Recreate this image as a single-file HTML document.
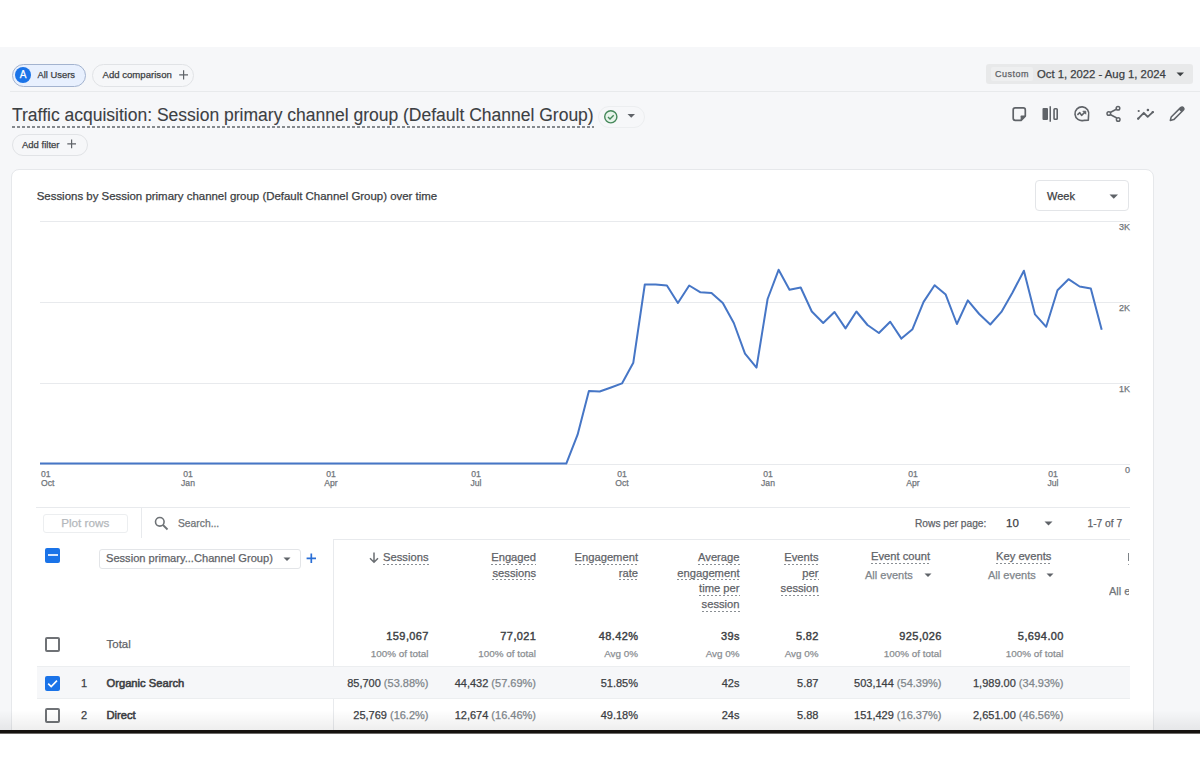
<!DOCTYPE html>
<html><head><meta charset="utf-8">
<style>
*{box-sizing:border-box;margin:0;padding:0}
html,body{width:1200px;height:781px;overflow:hidden;background:#fff;font-family:"Liberation Sans",sans-serif;color:#3c4043}
.abs,.hd,.num,.tot,.sub,.yl,.xl{-webkit-text-stroke:0.25px currentColor}
.abs{position:absolute;white-space:nowrap}
#gray{position:absolute;left:0;top:47px;width:1200px;height:683px;background:#f6f7f9}
#blackline{position:absolute;left:0;top:730px;width:1200px;height:4px;background:linear-gradient(to bottom,#15110f 0,#15110f 75%,#6d6a68 75%,#6d6a68 100%)}
.chip{position:absolute;height:23px;border-radius:12px;border:1px solid #e1e3e6;font-size:9.5px;line-height:21px;color:#3c4043}
#card{position:absolute;left:11px;top:169px;width:1143px;height:600px;background:#fff;border:1px solid #e6e8eb;border-radius:8px}
.g{position:absolute;height:1px;background:#e8eaed}
.yl{position:absolute;font-size:9px;color:#70757a;text-align:right;width:30px}
.xl{position:absolute;font-size:8.6px;line-height:9.5px;color:#70757a;text-align:center;width:30px}
.hd{position:absolute;font-size:11.2px;line-height:15.6px;color:#5f6368;text-align:right}
.hd span{padding-bottom:2px;background:linear-gradient(to right,#8a8f94 55%,transparent 55%) repeat-x left bottom/4px 1.2px}
.num{position:absolute;font-size:11px;color:#3c4043;text-align:right}
.num i{font-style:normal;color:#80868b}
.tot{position:absolute;font-size:11px;color:#3c4043;text-align:right;letter-spacing:0.4px;margin-right:-0.4px;-webkit-text-stroke:0.4px #3c4043 !important}
.sub{position:absolute;font-size:9.9px;color:#8a8e92;text-align:right}
.cb{position:absolute;width:15px;height:15px;border:2px solid #6f7276;border-radius:2px}
</style></head><body>
<div id="gray"></div>

<!-- chips -->
<div class="chip" style="left:11.5px;top:64px;width:74px;height:23px;background:#e8f0fe;border-color:#a3b3cf"></div>
<div class="abs" style="left:15px;top:67px;width:16px;height:16px;border-radius:50%;background:#1a73e8;color:#fff;font-size:10px;line-height:16px;text-align:center">A</div>
<div class="abs" style="left:37.5px;top:69px;font-size:9.4px;line-height:12px;color:#3c4043">All Users</div>
<div class="chip" style="left:92px;top:64px;width:102px;border-color:#e1e3e6"></div>
<div class="abs" style="left:102.5px;top:69px;font-size:9.6px;line-height:12px;color:#3c4043">Add comparison</div>
<svg class="abs" style="left:178.5px;top:69.5px" width="10" height="10"><path d="M4.6,0.2 V9.4 M0.2,4.8 H9" stroke="#5f6368" stroke-width="1.2"/></svg>

<div class="abs" style="left:10px;top:91px;width:1190px;height:1px;background:#e8eaec"></div>

<!-- date picker -->
<div class="abs" style="left:986px;top:64px;width:207px;height:20px;background:#e8e9ea;border-radius:3px"></div>
<div class="abs" style="left:991px;top:67px;width:42px;height:14px;background:#eeeff0;border-radius:2px;font-size:9px;line-height:14px;color:#5f6368;text-align:center;letter-spacing:0.5px">Custom</div>
<div class="abs" style="left:1037px;top:67px;font-size:11.3px;line-height:15px;color:#3c4043">Oct 1, 2022 - Aug 1, 2024</div>

<!-- title -->
<div class="abs" style="left:12px;top:104px;font-size:17.5px;line-height:22px;color:#3c4043;-webkit-text-stroke:0.1px #3c4043">Traffic acquisition: Session primary channel group (Default Channel Group)</div>
<div class="abs" style="left:12px;top:125.5px;width:582px;height:2px;background:linear-gradient(to right,#85898d 60%,transparent 60%) repeat-x left top/5px 2px"></div>

<!-- add filter -->
<div class="chip" style="left:12px;top:134px;width:76px;height:22px"></div>
<div class="abs" style="left:22px;top:139px;font-size:9.5px;line-height:12px;color:#3c4043">Add filter</div>

<!-- card -->
<div id="card"></div>
<div class="abs" style="left:36.7px;top:189px;font-size:11.45px;line-height:14px;color:#3c4043">Sessions by Session primary channel group (Default Channel Group) over time</div>

<div class="abs" style="left:1035px;top:180px;width:94px;height:31px;border:1px solid #e3e5e8;border-radius:4px"></div>
<div class="abs" style="left:1047px;top:189px;font-size:11px;line-height:14px;color:#3c4043">Week</div>

<!-- grid -->
<div class="g" style="left:40px;top:221px;width:1090px"></div>
<div class="g" style="left:40px;top:302px;width:1090px"></div>
<div class="g" style="left:40px;top:383px;width:1090px"></div>
<div class="g" style="left:40px;top:464px;width:1090px"></div>
<div class="yl" style="left:1100px;top:222px">3K</div>
<div class="yl" style="left:1100px;top:303px">2K</div>
<div class="yl" style="left:1100px;top:384px">1K</div>
<div class="yl" style="left:1100px;top:465px">0</div>


<!-- chart line -->
<svg class="abs" style="left:0;top:0" width="1200" height="781"><path d="M40.0,463.6 L566.3,463.6 L577.6,434.7 L588.9,390.9 L599.7,391.5 L611.0,387.5 L622.0,383.4 L633.3,362.7 L644.8,284.5 L655.6,284.5 L666.9,285.5 L677.9,303.0 L689.2,285.5 L700.5,292.3 L711.5,293.0 L722.8,303.0 L733.8,323.0 L745.0,353.7 L756.5,367.6 L767.6,299.0 L778.6,269.8 L789.5,289.8 L800.7,287.5 L811.8,311.5 L823.2,323.0 L834.5,312.0 L845.5,328.4 L856.4,311.5 L867.5,325.0 L878.9,333.0 L890.2,321.7 L901.4,338.6 L912.5,329.2 L923.6,301.9 L934.6,285.2 L945.7,294.6 L956.9,324.0 L967.8,300.3 L979.2,314.0 L990.3,324.5 L1001.4,311.9 L1012.4,292.7 L1023.9,270.7 L1035.0,314.4 L1046.2,326.8 L1057.5,290.3 L1068.5,279.2 L1079.6,286.5 L1090.8,288.4 L1101.7,329.7" fill="none" stroke="#4676c6" stroke-width="2" stroke-linejoin="round"/></svg>
<div class="xl" style="left:41px;top:469.5px;text-align:left">01<br>Oct</div>
<div class="xl" style="left:173px;top:469.5px">01<br>Jan</div>
<div class="xl" style="left:316px;top:469.5px">01<br>Apr</div>
<div class="xl" style="left:461px;top:469.5px">01<br>Jul</div>
<div class="xl" style="left:607px;top:469.5px">01<br>Oct</div>
<div class="xl" style="left:753px;top:469.5px">01<br>Jan</div>
<div class="xl" style="left:898px;top:469.5px">01<br>Apr</div>
<div class="xl" style="left:1038px;top:469.5px">01<br>Jul</div>

<!-- table toolbar -->
<div class="g" style="left:36px;top:507px;width:1094px"></div>
<div class="g" style="left:334px;top:539px;width:796px"></div>
<div class="abs" style="left:333px;top:539px;width:1px;height:192px;background:#e8eaed"></div>
<div class="abs" style="left:141px;top:507px;width:1px;height:31px;background:#e8eaed"></div>
<div class="abs" style="left:42.5px;top:514px;width:85.5px;height:19px;border:1px solid #eceef0;border-radius:3px;font-size:11.7px;line-height:15.5px;text-align:center;color:#b4b8bc">Plot rows</div>
<div class="abs" style="left:178px;top:517px;font-size:10.3px;line-height:13px;color:#6f7377">Search...</div>
<div class="abs" style="left:915px;top:517px;font-size:10.2px;line-height:13px;color:#5f6368">Rows per page:</div>
<div class="abs" style="left:1006px;top:516px;font-size:11.5px;line-height:14px;color:#3c4043">10</div>
<div class="abs" style="left:1087.5px;top:517px;font-size:10.2px;line-height:13px;color:#5f6368">1-7 of 7</div>

<!-- dim selector -->
<div class="abs" style="left:45px;top:548px;width:15px;height:15px;background:#1a73e8;border-radius:2px"></div>
<div class="abs" style="left:47.5px;top:554px;width:10.5px;height:2px;background:#d6e6ff"></div>
<div class="abs" style="left:99px;top:549px;width:202px;height:20px;border:1px solid #e3e5e8;border-radius:3px"></div>
<div class="abs" style="left:106px;top:552px;font-size:11.1px;line-height:13px;color:#5f6368">Session primary...Channel Group)</div>

<!-- headers -->
<div class="hd" style="right:771.5px;top:550px"><span>Sessions</span></div>
<div class="hd" style="right:664px;top:550px"><span>Engaged</span><br><span>sessions</span></div>
<div class="hd" style="right:562px;top:550px"><span>Engagement</span><br><span>rate</span></div>
<div class="hd" style="right:460.5px;top:550px"><span>Average</span><br><span>engagement</span><br><span>time per</span><br><span>session</span></div>
<div class="hd" style="right:381.5px;top:550px"><span>Events</span><br><span>per</span><br><span>session</span></div>
<div class="hd" style="left:871px;top:549px;text-align:left"><span>Event count</span></div>
<div class="abs" style="left:865px;top:568px;font-size:11px;line-height:14px;color:#80868b">All events</div>
<div class="hd" style="left:996px;top:549px;text-align:left"><span>Key events</span></div>
<div class="abs" style="left:988px;top:568px;font-size:11px;line-height:14px;color:#80868b">All events</div>
<div class="abs" style="left:1109px;top:583.5px;font-size:11px;line-height:14px;color:#70757a;width:20px;overflow:hidden">All events</div>
<div class="abs" style="left:1127.8px;top:553px;width:1.6px;height:8px;background:#7d8287"></div><div class="abs" style="left:1127.8px;top:564px;width:1.6px;height:1.2px;background:#9aa0a6"></div>

<!-- total row -->
<div class="cb" style="left:45px;top:637px"></div>
<div class="abs" style="left:106.5px;top:637px;font-size:11.5px;line-height:14px;color:#5f6368">Total</div>
<div class="tot" style="right:771.5px;top:630px">159,067</div>
<div class="sub" style="right:771.5px;top:648px">100% of total</div>
<div class="tot" style="right:664px;top:630px">77,021</div>
<div class="sub" style="right:664px;top:648px">100% of total</div>
<div class="tot" style="right:562px;top:630px">48.42%</div>
<div class="sub" style="right:562px;top:648px">Avg 0%</div>
<div class="tot" style="right:460.5px;top:630px">39s</div>
<div class="sub" style="right:460.5px;top:648px">Avg 0%</div>
<div class="tot" style="right:381.5px;top:630px">5.82</div>
<div class="sub" style="right:381.5px;top:648px">Avg 0%</div>
<div class="tot" style="right:258.5px;top:630px">925,026</div>
<div class="sub" style="right:258.5px;top:648px">100% of total</div>
<div class="tot" style="right:136.5px;top:630px">5,694.00</div>
<div class="sub" style="right:136.5px;top:648px">100% of total</div>

<!-- row 1 -->
<div class="abs" style="left:37px;top:666px;width:1093px;height:33px;background:#f6f7f9;border-top:1px solid #eceef0;border-bottom:1px solid #eceef0"></div>
<div class="abs" style="left:45px;top:676px;width:15px;height:15px;background:#1a73e8;border-radius:2px"></div>
<svg class="abs" style="left:45px;top:676px" width="15" height="15"><path d="M3.2,7.6 L6.2,10.6 L12,4.6" fill="none" stroke="#fff" stroke-width="1.6"/></svg>
<div class="abs" style="left:81px;top:676px;font-size:11px;line-height:14px;color:#3c4043">1</div>
<div class="abs" style="left:106.5px;top:676px;font-size:11.2px;line-height:14px;color:#3c4043;-webkit-text-stroke:0.55px #3c4043">Organic Search</div>
<div class="num" style="right:771.5px;top:677px">85,700 <i>(53.88%)</i></div>
<div class="num" style="right:664px;top:677px">44,432 <i>(57.69%)</i></div>
<div class="num" style="right:562px;top:677px">51.85%</div>
<div class="num" style="right:460.5px;top:677px">42s</div>
<div class="num" style="right:381.5px;top:677px">5.87</div>
<div class="num" style="right:258.5px;top:677px">503,144 <i>(54.39%)</i></div>
<div class="num" style="right:136.5px;top:677px">1,989.00 <i>(34.93%)</i></div>

<!-- row 2 -->
<div class="cb" style="left:45px;top:708px"></div>
<div class="abs" style="left:81px;top:708px;font-size:11px;line-height:14px;color:#3c4043">2</div>
<div class="abs" style="left:106.5px;top:708px;font-size:11.2px;line-height:14px;color:#3c4043;-webkit-text-stroke:0.55px #3c4043">Direct</div>
<div class="num" style="right:771.5px;top:709px">25,769 <i>(16.2%)</i></div>
<div class="num" style="right:664px;top:709px">12,674 <i>(16.46%)</i></div>
<div class="num" style="right:562px;top:709px">49.18%</div>
<div class="num" style="right:460.5px;top:709px">24s</div>
<div class="num" style="right:381.5px;top:709px">5.88</div>
<div class="num" style="right:258.5px;top:709px">151,429 <i>(16.37%)</i></div>
<div class="num" style="right:136.5px;top:709px">2,651.00 <i>(46.56%)</i></div>


<!-- check pill -->
<div class="abs" style="left:597.5px;top:105.5px;width:47px;height:22px;border:1px solid #eceef0;border-radius:11px"></div>
<svg class="abs" style="left:603px;top:108.5px" width="16" height="16"><circle cx="7.8" cy="7.8" r="6.1" fill="#e6f4ea" stroke="#45885a" stroke-width="1.4"/><path d="M5,8 L7,9.9 L10.7,6.2" fill="none" stroke="#45885a" stroke-width="1.4"/></svg>
<svg class="abs" style="left:627px;top:113px" width="9" height="6"><path d="M0.5,1 L8,1 L4.25,4.8 Z" fill="#5f6368"/></svg>
<!-- date arrow -->
<svg class="abs" style="left:1176px;top:72px" width="9" height="6"><path d="M0.5,0.5 L8,0.5 L4.25,4.3 Z" fill="#3c4043"/></svg>
<!-- week arrow -->
<svg class="abs" style="left:1108.5px;top:194px" width="10" height="6"><path d="M0.5,0.5 L9,0.5 L4.75,4.8 Z" fill="#5f6368"/></svg>
<!-- plus add comparison already; add filter plus -->
<svg class="abs" style="left:67px;top:139px" width="10" height="10"><path d="M4.6,0.4 V9.2 M0.3,4.8 H9" stroke="#5f6368" stroke-width="1.2"/></svg>
<!-- search icon -->
<svg class="abs" style="left:154px;top:516px" width="15" height="15"><circle cx="5.8" cy="5.8" r="4.3" fill="none" stroke="#6f7377" stroke-width="1.6"/><path d="M9,9 L13.5,13.5" stroke="#6f7377" stroke-width="1.8"/></svg>
<!-- rows per page arrow -->
<svg class="abs" style="left:1043.5px;top:521px" width="9" height="6"><path d="M0.5,0.5 L8.5,0.5 L4.5,4.5 Z" fill="#5f6368"/></svg>
<!-- dim dropdown arrow and plus -->
<svg class="abs" style="left:283px;top:557px" width="8" height="5"><path d="M0.5,0.5 L7.5,0.5 L4,4 Z" fill="#5f6368"/></svg>
<svg class="abs" style="left:305.5px;top:553px" width="11" height="11"><path d="M5.3,0.6 V10 M0.6,5.3 H10" stroke="#2a6fd6" stroke-width="1.7"/></svg>
<!-- sessions arrow -->
<svg class="abs" style="left:368.5px;top:552px" width="11" height="12"><path d="M5,0.5 V10.3 M1,6.3 L5,10.3 L9,6.3" fill="none" stroke="#6a6e72" stroke-width="1.5"/></svg>
<!-- all events arrows -->
<svg class="abs" style="left:923.5px;top:573px" width="8" height="5"><path d="M0.5,0.5 L7.5,0.5 L4,4 Z" fill="#5f6368"/></svg>
<svg class="abs" style="left:1046px;top:573px" width="8" height="5"><path d="M0.5,0.5 L7.5,0.5 L4,4 Z" fill="#5f6368"/></svg>

<!-- toolbar icons -->
<svg class="abs" style="left:1010px;top:105px" width="18" height="18"><path d="M3.2,4.9 Q3.2,2.9 5.2,2.9 H13.3 Q15.3,2.9 15.3,4.9 V11.1 L11.1,15.3 H5.2 Q3.2,15.3 3.2,13.3 Z" fill="none" stroke="#5f6368" stroke-width="1.7" stroke-linejoin="round"/><path d="M10.6,15.6 V11.2 Q10.6,10.6 11.2,10.6 H15.6 Z" fill="#5f6368"/></svg>
<svg class="abs" style="left:1040px;top:105px" width="20" height="18"><rect x="2.5" y="3" width="5.5" height="12" rx="1" fill="#5f6368"/><path d="M10.25,1.2 V16.8" stroke="#5f6368" stroke-width="1.5"/><rect x="14.05" y="3.8" width="3.15" height="10.4" rx="0.8" fill="none" stroke="#5f6368" stroke-width="1.6"/></svg>
<svg class="abs" style="left:1073px;top:105px" width="19" height="19"><path d="M15.56,10.54 A6.9,6.9 0 1 0 10.69,15.41 L15.3,15.2 Z" fill="none" stroke="#5f6368" stroke-width="1.6" stroke-linejoin="round"/><path d="M4.4,9.9 L6.8,7.7 L8.6,10.4 L12.3,6.7" fill="none" stroke="#5f6368" stroke-width="1.6" stroke-linejoin="round"/><path d="M9.8,6.2 H12.8 V9.2 Z" fill="#5f6368" stroke="#5f6368" stroke-width="0.8" stroke-linejoin="round"/></svg>
<svg class="abs" style="left:1105px;top:105px" width="17" height="18"><circle cx="13" cy="3.3" r="1.8" fill="none" stroke="#5f6368" stroke-width="1.5"/><circle cx="3.8" cy="8.5" r="1.8" fill="none" stroke="#5f6368" stroke-width="1.5"/><circle cx="13.2" cy="14.5" r="1.8" fill="none" stroke="#5f6368" stroke-width="1.5"/><path d="M5.2,7.5 L11.8,4 M5.2,9.5 L11.8,13" stroke="#5f6368" stroke-width="1.5"/></svg>
<svg class="abs" style="left:1136px;top:105px" width="19" height="18"><path d="M2.2,13.6 L7.8,7.8 L11.7,11.9 L16.8,7.1" fill="none" stroke="#5f6368" stroke-width="1.8" stroke-linejoin="round" stroke-linecap="round"/><circle cx="2.2" cy="13.6" r="1.2" fill="#5f6368"/><circle cx="16.8" cy="7.1" r="1.2" fill="#5f6368"/><circle cx="2.7" cy="6" r="1.1" fill="#5f6368"/><circle cx="11.9" cy="5" r="1.3" fill="#5f6368"/></svg>
<svg class="abs" style="left:1168px;top:105px" width="18" height="18"><path d="M2.3,15.4 L3.2,12 L12.6,2.6 Q14.3,1.2 15.4,2.6 Q16.6,4.1 15.2,5.2 L5.8,14.6 Z" fill="none" stroke="#5f6368" stroke-width="1.5" stroke-linejoin="round"/><path d="M12.6,2.6 Q14.3,1.2 15.4,2.6 Q16.6,4.1 15.2,5.2 L13.4,7 L10.8,4.4 Z" fill="#5f6368"/></svg>

<div class="abs" style="left:0;top:710px;width:1200px;height:20px;background:linear-gradient(to bottom,rgba(0,0,0,0) 0%,rgba(0,0,0,0.065) 100%)"></div>
<div id="blackline"></div>
<div class="abs" style="left:0;top:734px;width:1200px;height:47px;background:#fff"></div>
</body></html>
